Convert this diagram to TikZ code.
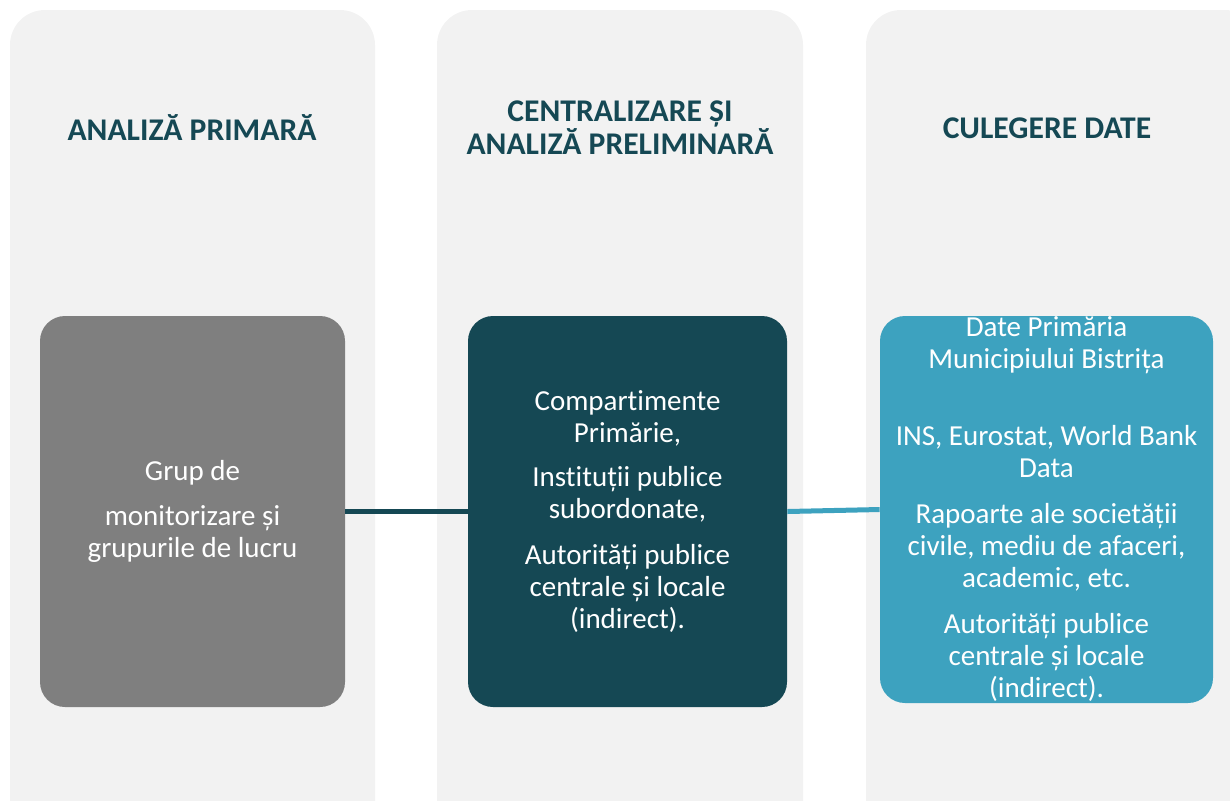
\documentclass[tikz,border=0pt]{standalone}
\usepackage{fontspec}
\setmainfont{Carlito}[Ligatures={NoCommon,NoRequired,NoContextual}, RawFeature={-calt}]
\usetikzlibrary{positioning}
\definecolor{panelgray}{HTML}{F2F2F2}
\definecolor{boxgray}{HTML}{7F7F7F}
\definecolor{darkteal}{HTML}{154854}
\definecolor{lightteal}{HTML}{3DA2BF}

\begin{document}
\begin{tikzpicture}[x=0.5pt, y=-0.5pt,
    heading/.style={text=darkteal, font=\bfseries\fontsize{15.8}{16.5}\selectfont, align=center},
    stagebox/.style={rounded corners=12.5pt, inner sep=0pt, minimum width=#1},
    bodytext/.style={text=white, font=\fontsize{14.5}{16}\selectfont, align=center, inner sep=0pt}]
    \clip (0,0) rectangle (1230,800);
    % background panels
    \fill[panelgray, rounded corners=17.5pt] (10,10) rectangle (375,850);
    \fill[panelgray, rounded corners=17.5pt] (437,10) rectangle (803,850);
    \fill[panelgray, rounded corners=17.5pt] (866,10) rectangle (1260,850);
    % headings
    \node[heading] (h1) at (192,128) {ANALIZĂ PRIMARĂ};
    \node[heading] (h2) at (620,128) {CENTRALIZARE ȘI\\ANALIZĂ PRELIMINARĂ};
    \node[heading] (h3) at (1047,128) {CULEGERE DATE};
    % stage boxes
    \node[stagebox=152.5pt, fill=boxgray, minimum height=195.5pt] (b1) at (192.5,511.5) {};
    \node[stagebox=159.5pt, fill=darkteal, minimum height=195.5pt] (b2) at (627.5,511.5) {};
    \node[stagebox=166.5pt, fill=lightteal, minimum height=193.5pt] (b3) at (1046.5,509.5) {};
    % connectors
    \draw[darkteal, line width=2.5pt] (b1.east) -- (b2.west);
    \draw[lightteal, line width=2.5pt] (b2.east) -- (b3.west);
    % box texts
    \node[bodytext] (t1) at (b1.center) {Grup de\\[6.5pt]monitorizare și\\grupurile de lucru};
    \node[bodytext] (t2) at (b2.center) {Compartimente\\Primărie,\\[6pt]Instituții publice\\subordonate,\\[7pt]Autorități publice\\centrale și locale\\(indirect).};
    \node[bodytext] (t3) at (b3.center) {Date Primăria\\Municipiului Bistrița\\[22.5pt]INS, Eurostat, World Bank\\Data\\[7pt]Rapoarte ale societății\\civile, mediu de afaceri,\\academic, etc.\\[7pt]Autorități publice\\centrale și locale\\(indirect).};
\end{tikzpicture}
\end{document}
